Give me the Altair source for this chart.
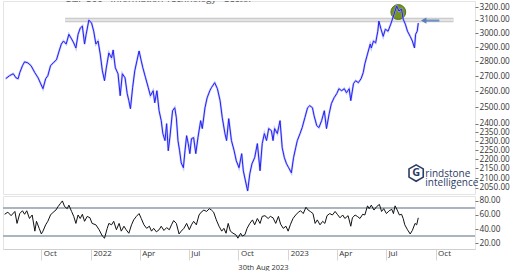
import altair as alt
import pandas as pd

# ---------------- data ----------------
price_dates = ["2021-07-27","2021-08-03","2021-08-10","2021-08-15","2021-08-19","2021-08-22","2021-08-27","2021-08-31","2021-09-06","2021-09-12","2021-09-19","2021-09-25","2021-09-29","2021-10-04","2021-10-09","2021-10-13","2021-10-18","2021-10-23","2021-10-29","2021-11-03","2021-11-07","2021-11-11","2021-11-16","2021-11-21","2021-11-26","2021-11-30","2021-12-04","2021-12-08","2021-12-12","2021-12-16","2021-12-20","2021-12-23","2021-12-28","2022-01-02","2022-01-06","2022-01-10","2022-01-14","2022-01-18","2022-01-22","2022-01-26","2022-01-29","2022-02-03","2022-02-08","2022-02-11","2022-02-15","2022-02-20","2022-02-24","2022-02-28","2022-03-05","2022-03-09","2022-03-12","2022-03-15","2022-03-19","2022-03-23","2022-03-27","2022-03-31","2022-04-04","2022-04-07","2022-04-12","2022-04-17","2022-04-21","2022-04-26","2022-04-29","2022-05-03","2022-05-07","2022-05-11","2022-05-14","2022-05-18","2022-05-21","2022-05-24","2022-05-27","2022-06-01","2022-06-05","2022-06-08","2022-06-11","2022-06-14","2022-06-17","2022-06-21","2022-06-24","2022-06-27","2022-06-30","2022-07-03","2022-07-06","2022-07-10","2022-07-14","2022-07-18","2022-07-23","2022-07-26","2022-07-31","2022-08-04","2022-08-09","2022-08-12","2022-08-18","2022-08-23","2022-08-28","2022-09-01","2022-09-06","2022-09-09","2022-09-13","2022-09-18","2022-09-23","2022-09-27","2022-10-02","2022-10-07","2022-10-10","2022-10-14","2022-10-18","2022-10-22","2022-10-26","2022-10-31","2022-11-05","2022-11-10","2022-11-14","2022-11-18","2022-11-22","2022-11-26","2022-12-01","2022-12-04","2022-12-07","2022-12-12","2022-12-17","2022-12-21","2022-12-25","2022-12-29","2023-01-02","2023-01-07","2023-01-11","2023-01-15","2023-01-18","2023-01-23","2023-01-27","2023-02-01","2023-02-06","2023-02-10","2023-02-15","2023-02-18","2023-02-23","2023-02-27","2023-03-04","2023-03-09","2023-03-13","2023-03-18","2023-03-22","2023-03-27","2023-04-01","2023-04-05","2023-04-10","2023-04-15","2023-04-19","2023-04-24","2023-04-27","2023-05-02","2023-05-06","2023-05-11","2023-05-16","2023-05-20","2023-05-23","2023-05-28","2023-06-02","2023-06-04","2023-06-08","2023-06-12","2023-06-16","2023-06-18","2023-06-22","2023-06-26","2023-06-30","2023-07-05","2023-07-10","2023-07-15","2023-07-18","2023-07-21","2023-07-25","2023-07-30","2023-08-02","2023-08-06","2023-08-10","2023-08-15","2023-08-19","2023-08-23","2023-08-25","2023-08-28","2023-08-30"]
price_values = [2682,2702,2715,2688,2682,2722,2769,2796,2789,2769,2722,2688,2656,2617,2682,2702,2769,2789,2810,2872,2921,2943,2921,2992,2958,2929,2893,2992,3038,3053,2921,2992,3099,3076,3015,2921,2943,2851,2735,2669,2748,2858,2823,2879,2755,2715,2572,2715,2688,2585,2541,2491,2624,2735,2803,2872,2803,2755,2688,2624,2572,2604,2528,2604,2479,2419,2343,2303,2401,2246,2320,2479,2497,2437,2303,2246,2180,2154,2246,2331,2286,2230,2314,2320,2230,2320,2419,2372,2497,2559,2604,2624,2656,2617,2541,2437,2343,2303,2431,2303,2246,2191,2154,2230,2138,2085,2034,2122,2175,2208,2286,2138,2286,2343,2303,2372,2360,2303,2372,2343,2419,2263,2208,2175,2154,2127,2208,2263,2303,2343,2378,2437,2497,2510,2497,2449,2389,2378,2419,2479,2372,2461,2522,2559,2585,2617,2604,2617,2591,2617,2541,2650,2669,2656,2682,2722,2782,2851,2921,2893,2943,2929,3015,3091,3030,2977,3030,3015,3068,3130,3169,3208,3169,3184,3106,3068,3015,2977,2943,2893,2992,3015,3076]

rsi_dates = ["2021-07-25","2021-07-31","2021-08-06","2021-08-13","2021-08-17","2021-08-22","2021-08-27","2021-08-31","2021-09-04","2021-09-09","2021-09-14","2021-09-19","2021-09-22","2021-09-27","2021-10-01","2021-10-04","2021-10-09","2021-10-13","2021-10-18","2021-10-23","2021-10-28","2021-11-01","2021-11-05","2021-11-09","2021-11-13","2021-11-18","2021-11-21","2021-11-26","2021-11-30","2021-12-04","2021-12-08","2021-12-12","2021-12-16","2021-12-20","2021-12-25","2021-12-30","2022-01-03","2022-01-10","2022-01-16","2022-01-22","2022-01-26","2022-01-31","2022-02-03","2022-02-08","2022-02-12","2022-02-17","2022-02-22","2022-02-26","2022-03-03","2022-03-07","2022-03-12","2022-03-17","2022-03-21","2022-03-26","2022-03-31","2022-04-04","2022-04-09","2022-04-14","2022-04-19","2022-04-23","2022-04-27","2022-05-02","2022-05-07","2022-05-11","2022-05-16","2022-05-21","2022-05-26","2022-05-30","2022-06-03","2022-06-08","2022-06-13","2022-06-17","2022-06-22","2022-06-27","2022-07-02","2022-07-06","2022-07-10","2022-07-15","2022-07-20","2022-07-24","2022-07-29","2022-08-03","2022-08-08","2022-08-12","2022-08-16","2022-08-21","2022-08-26","2022-08-31","2022-09-04","2022-09-08","2022-09-12","2022-09-16","2022-09-21","2022-09-26","2022-09-30","2022-10-05","2022-10-08","2022-10-13","2022-10-17","2022-10-22","2022-10-27","2022-10-31","2022-11-05","2022-11-10","2022-11-14","2022-11-19","2022-11-25","2022-11-29","2022-12-04","2022-12-09","2022-12-14","2022-12-18","2022-12-23","2022-12-28","2023-01-01","2023-01-05","2023-01-10","2023-01-15","2023-01-20","2023-01-24","2023-01-29","2023-02-03","2023-02-07","2023-02-11","2023-02-16","2023-02-20","2023-02-24","2023-03-01","2023-03-06","2023-03-10","2023-03-14","2023-03-19","2023-03-24","2023-03-29","2023-04-02","2023-04-07","2023-04-12","2023-04-16","2023-04-22","2023-04-27","2023-04-30","2023-05-05","2023-05-09","2023-05-14","2023-05-19","2023-05-23","2023-05-28","2023-05-31","2023-06-04","2023-06-09","2023-06-14","2023-06-19","2023-06-23","2023-06-27","2023-07-02","2023-07-07","2023-07-12","2023-07-15","2023-07-18","2023-07-22","2023-07-26","2023-07-30","2023-08-02","2023-08-05","2023-08-10","2023-08-15","2023-08-19","2023-08-24","2023-08-27","2023-08-30"]
rsi_values = [61,64,59,65,48,62,66,61,66,55,60,37,51,41,33,37,46,51,60,64,67,72,76,80,72,69,74,65,58,48,60,55,61,51,58,56,48,46,39,30,27,41,48,46,51,39,48,37,44,39,34,46,53,58,62,55,46,41,44,37,41,36,39,44,38,42,39,46,52,48,33,37,41,48,39,46,51,46,60,64,67,65,69,67,64,53,44,37,41,34,48,37,34,32,27,34,30,32,41,48,53,46,55,48,58,59,55,58,56,48,58,47,41,44,37,46,55,60,64,66,62,71,67,65,62,48,53,46,51,48,59,62,60,65,61,56,60,55,59,44,56,60,58,55,61,60,73,69,74,67,72,75,65,69,62,66,68,62,73,67,60,61,55,46,39,33,38,48,46,56]

price_ticks = [2050, 2100, 2150, 2200, 2250, 2300, 2350, 2400, 2500, 2600, 2700, 2800, 2900, 3000, 3100, 3200]
rsi_ticks = [20, 40, 60, 80]
rsi_levels = [30, 70]
quarter_ticks = [(2021, 10), (2022, 1), (2022, 4), (2022, 7), (2022, 10), (2023, 1), (2023, 4), (2023, 7), (2023, 10)]

resistance = {"start": ["2021-11-14"], "end": ["2023-11-03"], "level": [3100]}
highlight = {"date": ["2023-07-24"], "value": [3161]}
arrow = {"start": ["2023-09-09"], "end": ["2023-10-08"], "level": [3095]}
logo_mark = {"date": ["2023-08-26"], "value": [2126]}
logo_text = {"date": ["2023-09-12", "2023-09-12"], "value": [2121, 2076], "text": ["rindstone", "intelligence"]}
title_text = "S&P 500 - Information Technology - Sector"
date_caption = "30th Aug 2023"

# ---------------- frames ----------------
price_df = pd.DataFrame({"date": price_dates, "price": price_values})
rsi_df = pd.DataFrame({"date": rsi_dates, "rsi": rsi_values})
levels_df = pd.DataFrame({"level": rsi_levels})
res_df = pd.DataFrame(resistance)
hl_df = pd.DataFrame(highlight)
arrow_df = pd.DataFrame(arrow)
logo_df = pd.DataFrame(logo_mark)
logo_txt_df = pd.DataFrame(logo_text)
title_df = pd.DataFrame({"t": [title_text]})

W = 472
FONT = "Open Sans"

x_scale = alt.Scale(type="utc",
                    domain=[alt.DateTime(year=2021, month=7, date=22, utc=True),
                            alt.DateTime(year=2023, month=12, date=13, utc=True)])
y_scale = alt.Scale(type="log", domain=[2019, 3248], nice=False, zero=False)
r_scale = alt.Scale(domain=[11.6, 87], nice=False, zero=False)


def price_axis():
    return alt.Axis(orient="right", values=price_ticks, format=".2f", grid=False,
                    domain=False, tickSize=3, tickColor="#777", labelPadding=1,
                    labelFontSize=8.2, labelColor="#333", labelFont=FONT,
                    labelOverlap=False, title=None)


def rsi_axis():
    return alt.Axis(orient="right", values=rsi_ticks, format=".2f", grid=False, domain=False,
                    tickSize=3, tickColor="#777", labelPadding=1, labelFontSize=8.2,
                    labelColor="#333", labelFont=FONT, title=None)


def px(field):
    return alt.X(field, type="temporal", scale=x_scale, axis=None)


def py(field):
    return alt.Y(field, type="quantitative", scale=y_scale, axis=price_axis())


halo = alt.Chart(price_df).mark_line(color="#9ea2ff", strokeWidth=2.2, opacity=0.6).encode(
    x=px("date"), y=py("price"))
line = alt.Chart(price_df).mark_line(color="#2222f2", strokeWidth=1).encode(
    x=px("date"), y=py("price"))

res_outer = alt.Chart(res_df).mark_rule(color="#c4c4c4", strokeWidth=4.5).encode(
    x=px("start"), x2="end:T", y=py("level"))
res_inner = alt.Chart(res_df).mark_rule(color="#e4e4e4", strokeWidth=2.5).encode(
    x=px("start"), x2="end:T", y=py("level"))

circle = alt.Chart(hl_df).mark_point(shape="circle", filled=True, size=220, color="#6f8f18",
                                     opacity=0.95, stroke="#4c6a0c", strokeWidth=1).encode(
    x=px("date"), y=py("value"))

arrow_shaft = alt.Chart(arrow_df).mark_rule(color="#6f92c6", strokeWidth=2.2).encode(
    x=px("start"), x2="end:T", y=py("level"))
arrow_head = alt.Chart(arrow_df).mark_point(shape="triangle-left", filled=True, size=40,
                                            color="#5a7fb8", opacity=1).encode(
    x=px("start"), y=py("level"))

hexagon = "M0,-1 L0.866,-0.5 L0.866,0.5 L0,1 L-0.866,0.5 L-0.866,-0.5 Z"
logo_hex = alt.Chart(logo_df).mark_point(shape=hexagon, filled=False, size=270, color="#2c3a66",
                                         strokeWidth=1.6, opacity=1).encode(
    x=px("date"), y=py("value"))
logo_g = alt.Chart(logo_df).mark_text(text="G", font=FONT, fontSize=11, fontWeight="bold",
                                      color="#2c3a66").encode(x=px("date"), y=py("value"))
logo_words = alt.Chart(logo_txt_df).mark_text(align="left", baseline="middle", font=FONT,
                                              fontSize=10, color="#2c3a66").encode(
    x=px("date"), y=py("value"), text="text:N")

title = alt.Chart(title_df).mark_text(align="left", baseline="alphabetic", font=FONT,
                                      fontSize=9.5, color="#555", clip=True).encode(
    text="t:N", x=alt.value(63), y=alt.value(1))

top = alt.layer(res_outer, res_inner, circle, halo, line, arrow_shaft, arrow_head,
                logo_hex, logo_g, logo_words, title).properties(width=W, height=193)

# ---------------- RSI panel ----------------
xr = alt.X("date:T", scale=x_scale,
           axis=alt.Axis(values=[alt.DateTime(year=y, month=m, date=1, utc=True) for y, m in quarter_ticks],
                         labelExpr="utcFormat(datum.value, '%m') == '01' ? utcFormat(datum.value, '%Y') : utcFormat(datum.value, '%b')",
                         grid=False, domainColor="#cfcfcf", tickColor="#d6d6d6", tickSize=11,
                         labelAlign="left", labelBaseline="top", labelPadding=-11, labelOffset=2,
                         labelFontSize=8, labelColor="#333", labelFont=FONT,
                         title=date_caption, titleFontSize=7.5, titleFontWeight="normal",
                         titleColor="#333", titleFont=FONT, titleX=260, titleY=18,
                         titleAlign="center", titleBaseline="middle"))

lvl = alt.Chart(levels_df).mark_rule(color="#aab5c0", strokeWidth=2).encode(
    y=alt.Y("level:Q", scale=r_scale, axis=rsi_axis()))
rsi_line = alt.Chart(rsi_df).mark_line(color="#111", strokeWidth=1).encode(
    x=xr, y=alt.Y("rsi:Q", scale=r_scale, axis=rsi_axis()))

bottom = alt.layer(lvl, rsi_line).properties(width=W, height=53)

chart = alt.vconcat(top, bottom, spacing=-1).properties(
    padding={"left": 0, "top": 0, "right": 0, "bottom": 0}, background="white"
).configure_view(stroke="#e4e4e4")

chart.save("out.html", embed_options={"renderer": "svg", "actions": False})
